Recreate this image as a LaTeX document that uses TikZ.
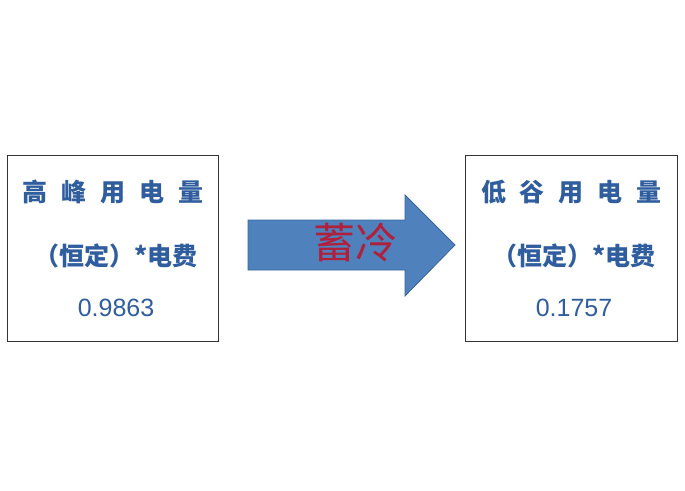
\documentclass[tikz,border=0pt]{standalone}
\usepackage{fontspec}
\newfontfamily\cjk{Noto Sans CJK SC}
\setmainfont{Liberation Sans}
\definecolor{tb}{HTML}{2F5D9E}
\definecolor{ar}{HTML}{4F81BD}
\definecolor{ard}{HTML}{3A659A}
\definecolor{rd}{HTML}{B0203A}
\begin{document}
\begin{tikzpicture}[x=1pt,y=-1pt,
  box/.style={draw=black!80,line width=1pt},
  txt/.style={text=tb,font=\cjk\bfseries\fontsize{25}{27}\selectfont,anchor=center},
  num/.style={text=tb,font=\fontsize{25}{27}\selectfont,anchor=center}]
\useasboundingbox (0,0) rectangle (685,490);
\draw[box] (7,155) rectangle (218,341);
\draw[box] (465,155) rectangle (677,341);
\node[txt] (l1) at (113,192) {高\hspace{0.55em}峰\hspace{0.55em}用\hspace{0.55em}电\hspace{0.55em}量};
\node[txt] (l2) at (116,256) {（恒定）*电费};
\node[num] (l3) at (116,308) {0.9863};
\node[txt] (r1) at (571,192) {低\hspace{0.55em}谷\hspace{0.55em}用\hspace{0.55em}电\hspace{0.55em}量};
\node[txt] (r2) at (574,256) {（恒定）*电费};
\node[num] (r3) at (574,308) {0.1757};
\draw[ard,fill=ar,line width=0.8pt] (248,220) -- (405,220) -- (405,195) -- (455,245) -- (405,296) -- (405,270) -- (248,270) -- cycle;
\node[text=rd,font=\cjk\fontsize{42}{44}\selectfont] (a) at (355,243) {蓄冷};
\end{tikzpicture}
\end{document}
